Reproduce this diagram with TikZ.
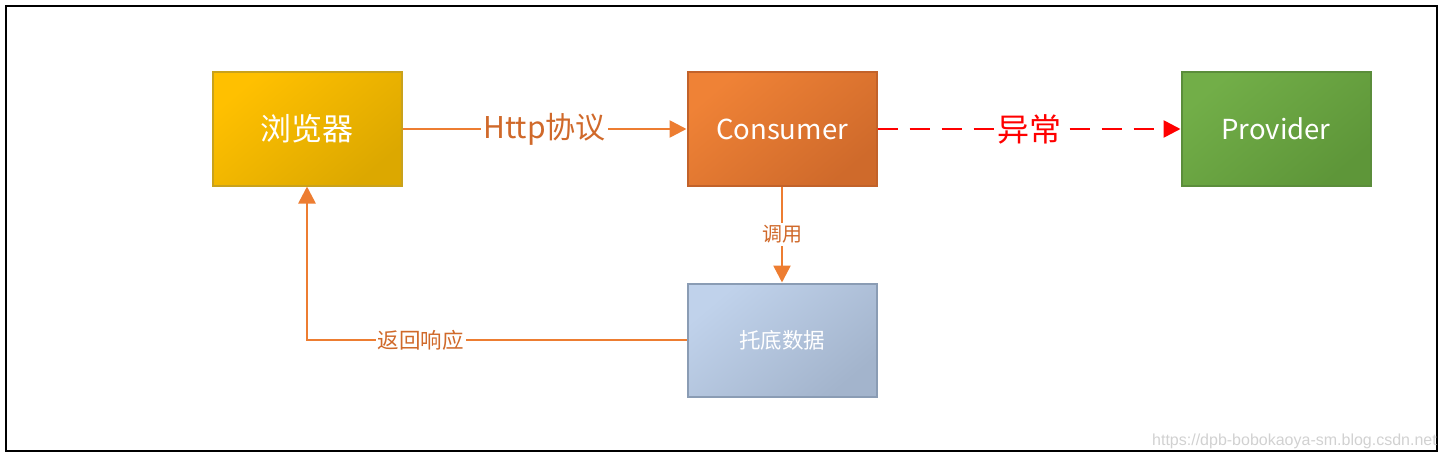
\documentclass[tikz,border=0pt]{standalone}
\usepackage{fontspec}
\usepackage{xcolor}
\usepackage{tikz}
\usetikzlibrary{arrows.meta}
\usetikzlibrary{positioning}
\setmainfont{Noto Sans CJK SC}
\newfontfamily\markfont{Liberation Sans}
\definecolor{goldtop}{HTML}{FFC000}
\definecolor{goldbot}{HTML}{DCA800}
\definecolor{goldline}{HTML}{C9A21C}
\definecolor{orgtop}{HTML}{EF8236}
\definecolor{orgbot}{HTML}{CF6A2B}
\definecolor{orgline}{HTML}{C2622A}
\definecolor{grntop}{HTML}{72AE48}
\definecolor{grnbot}{HTML}{5E9639}
\definecolor{grnline}{HTML}{5B8D3B}
\definecolor{blutop}{HTML}{C0D2EB}
\definecolor{blubot}{HTML}{A3B4CC}
\definecolor{bluline}{HTML}{8A9CB4}
\definecolor{flow}{HTML}{ED7D31}
\definecolor{flowtext}{HTML}{D0692A}

\begin{document}
\begin{tikzpicture}[x=1pt,y=-1pt,
	box/.style={draw,line width=2pt,minimum width=189pt,minimum height=113pt,
		inner sep=0pt,text=white},
	tilt/.style={shading angle=40},
	flowline/.style={draw=flow,line width=2.6pt,-{Triangle[length=17pt,width=17pt]}},
	flowlabel/.style={fill=white,inner sep=2pt,text=flowtext}]
  \useasboundingbox (0,0) rectangle (1448,460);
  \draw[line width=2.2pt] (6,6) rectangle (1437,451);
  \node[box,draw=goldline,top color=goldtop,bottom color=goldbot,tilt,font=\fontsize{31}{34}\selectfont] (browser) at (307,129) {浏览器};
  \node[box,draw=orgline,top color=orgtop,bottom color=orgbot,tilt,font=\fontsize{27.5}{32}\selectfont] (consumer) at (782,129) {Consumer};
  \node[box,draw=grnline,top color=grntop,bottom color=grnbot,tilt,font=\fontsize{27.5}{32}\selectfont] (provider) at (1276,129) {Provider};
  \node[box,draw=bluline,top color=blutop,bottom color=blubot,tilt,font=\fontsize{21.5}{24}\selectfont] (fallback) at (782,340) {托底数据};
  \draw[flowline] (browser) -- node[flowlabel,font=\fontsize{30}{34}\selectfont] {Http协议} (consumer);
  \draw[red,line width=2.6pt,dash pattern=on 20pt off 12pt,-{Triangle[length=17pt,width=17pt]}] (consumer) -- node[fill=white,inner sep=3pt,text=red,font=\fontsize{32}{36}\selectfont] {异常} (provider);
  \draw[flowline] (consumer) -- node[flowlabel,font=\fontsize{20}{23}\selectfont] {调用} (fallback);
  \draw[flowline] (fallback.west) -| node[flowlabel,pos=0.35,font=\fontsize{21.5}{24}\selectfont] {返回响应} (browser.south);
  \node[anchor=south east,inner sep=0pt,text=black!18,font=\markfont\fontsize{16}{18}\selectfont] (mark) at (1437,449) {https://dpb-bobokaoya-sm.blog.csdn.net};
\end{tikzpicture}
\end{document}
